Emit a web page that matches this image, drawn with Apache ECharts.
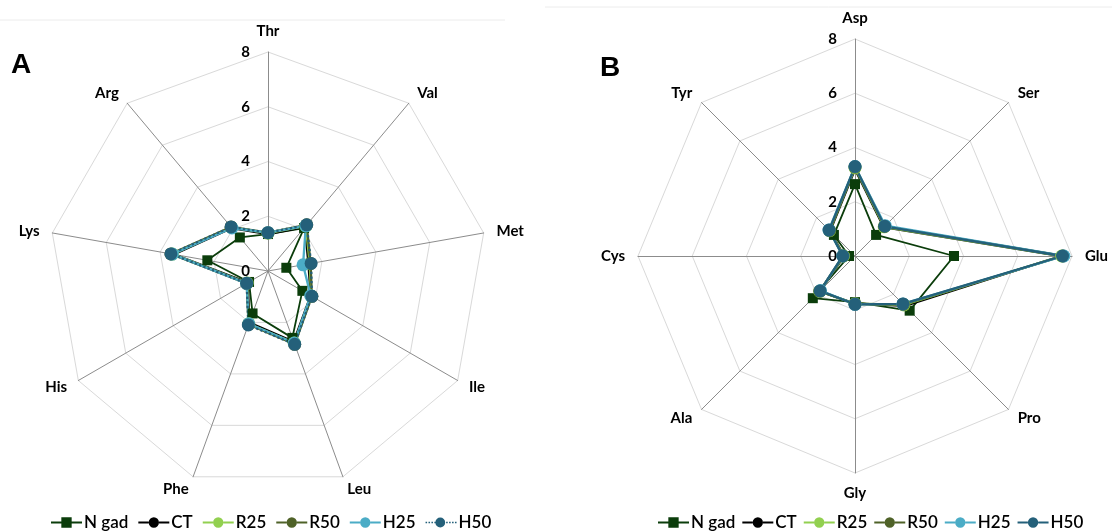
<!DOCTYPE html>
<html>
<head>
<meta charset="utf-8">
<script src="https://cdn.jsdelivr.net/npm/echarts@6/dist/echarts.min.js"></script>
<style>
html,body{margin:0;padding:0;background:#fff;}
#chart{width:1112px;height:532px;}
</style>
</head>
<body>
<div id="chart"></div>
<script>
// ---- data ----
const catsA = ['Thr','Val','Met','Ile','Leu','Phe','His','Lys','Arg'];
const catsB = ['Asp','Ser','Glu','Pro','Gly','Ala','Cys','Tyr'];
const seriesNames = ['N gad','CT','R25','R50','H25','H50'];
const tickLabels = [0,2,4,6,8];

// Panel A (Thr, Val, Met, Ile, Leu, Phe, His, Lys, Arg)
const aNgad = [1.35, 2.05, 0.68, 1.45, 2.60, 1.65, 0.80, 2.25, 1.60];
const aCT   = [1.35, 2.10, 1.50, 1.80, 2.75, 2.00, 0.85, 3.50, 2.05];
const aR25  = [1.38, 2.15, 1.55, 1.82, 2.80, 2.05, 0.88, 3.55, 2.08];
const aR50  = [1.40, 2.20, 1.58, 1.85, 2.85, 2.08, 0.90, 3.60, 2.10];
const aH25  = [1.40, 2.15, 1.30, 1.80, 2.80, 2.05, 0.90, 3.55, 2.05];
const aH50  = [1.40, 2.20, 1.60, 1.85, 2.85, 2.10, 0.90, 3.60, 2.10];

// Panel B (Asp, Ser, Glu, Pro, Gly, Ala, Cys, Tyr)
const bNgad = [2.65, 1.10, 3.65, 2.85, 1.70, 2.20, 0.22, 1.10];
const bCT   = [3.20, 1.50, 7.60, 2.60, 1.75, 1.85, 0.40, 1.30];
const bR25  = [3.25, 1.52, 7.62, 2.55, 1.76, 1.84, 0.42, 1.32];
const bR50  = [3.28, 1.55, 7.68, 2.52, 1.77, 1.83, 0.44, 1.33];
const bH25  = [3.30, 1.58, 7.70, 2.50, 1.78, 1.80, 0.45, 1.36];
const bH50  = [3.30, 1.55, 7.65, 2.50, 1.78, 1.82, 0.45, 1.35];

// ---- styles ----
const colors = {'N gad':'#0b3d0b','CT':'#000000','R25':'#92d050','R50':'#4f6228','H25':'#4bacc6','H50':'#24607a'};
const FONT = 'Lato, "Open Sans", sans-serif';

// ECharts lays radar axes counter-clockwise; Excel lays them clockwise.
function cw(arr){ return [arr[0]].concat(arr.slice(1).reverse()); }

const maxV = tickLabels[tickLabels.length-1];
function indicators(cats){
  return cw(cats).map((c,i)=>{
    const o = {name:c, min:0, max:maxV};
    if(i===0) o.axisLabel = {show:true, color:'#000', fontWeight:'bold', fontSize:15, fontFamily:FONT, margin:18};
    return o;
  });
}
function radarCfg(cats, center, radius){
  return {
    center:center, radius:radius, startAngle:90, shape:'polygon',
    splitNumber: tickLabels.length-1,
    indicator: indicators(cats),
    nameGap: 13,
    axisName: {color:'#000', fontWeight:'bold', fontSize:15, fontFamily:FONT},
    splitLine: {lineStyle:{color:'#d9d9d9', width:1}},
    splitArea: {show:false},
    axisLine: {lineStyle:{color:'#8c8c8c', width:1}},
    axisTick: {show:false},
    axisLabel: {show:false}
  };
}
function items(arrs, dottedH50){
  return seriesNames.map((n,i)=>{
    const isN = n==='N gad';
    return {
      name:n, value: cw(arrs[i]),
      symbol: isN ? 'rect' : 'circle',
      symbolSize: isN ? 10 : (n==='CT' ? 8 : 13),
      itemStyle:{color:colors[n]},
      lineStyle:{color:colors[n], width: isN ? 1.8 : 2.3, type: (dottedH50 && n==='H50') ? 'dotted' : 'solid'}
    };
  });
}

// legend icons (30 x 10 box): line + marker
function dots(x0,x1){ let s=''; for(let x=x0;x<x1-0.5;x+=3){ s+='M'+x+',4.2H'+(x+1.6)+'V5.8H'+x+'Z '; } return s; }
const circ = 'M20,5A5,5,0,1,1,10,5A5,5,0,1,1,20,5Z';
const solidL = 'M0,4H10V6H0Z M20,4H30V6H20Z ';
const iconCircle = 'path://' + solidL + circ;
const iconSquare = 'path://' + solidL + 'M10,0H20V10H10Z';
const iconDotted = 'path://' + dots(0,10) + dots(21,31) + circ;

function legendData(dotted){
  return seriesNames.map(n=>({name:n, icon: n==='N gad' ? iconSquare : (dotted && n==='H50' ? iconDotted : iconCircle)}));
}
function legendCfg(left, dotted, gap){
  return {
    left:left, top:509, orient:'horizontal', itemWidth:31, itemHeight:11, itemGap:gap,
    data: legendData(dotted), selectedMode:false,
    textStyle:{color:'#000', fontSize:17, fontWeight:600, fontFamily:FONT, padding:[0,0,0,-3]}
  };
}

const chart = echarts.init(document.getElementById('chart'), null, {renderer:'canvas'});
chart.setOption({
  backgroundColor:'#ffffff',
  animation:false,
  radar:[ radarCfg(catsA, [268,271], 219), radarCfg(catsB, [855,256], 217) ],
  legend:[ legendCfg(46, true, 10), legendCfg(653, false, 7) ],
  series:[
    {type:'radar', radarIndex:0, data: items([aNgad,aCT,aR25,aR50,aH25,aH50], true)},
    {type:'radar', radarIndex:1, data: items([bNgad,bCT,bR25,bR50,bH25,bH50], false)}
  ],
  graphic:[
    {type:'line', shape:{x1:0,y1:20,x2:505,y2:20}, style:{stroke:'#ececec', lineWidth:1}, silent:true},
    {type:'line', shape:{x1:545,y1:7,x2:1112,y2:7}, style:{stroke:'#ececec', lineWidth:1}, silent:true},
    {type:'text', left:11, top:51, style:{text:'A', font:'bold 28px "Liberation Sans", Arial, sans-serif', fill:'#000'}},
    {type:'text', left:600, top:54, style:{text:'B', font:'bold 28px "Liberation Sans", Arial, sans-serif', fill:'#000'}}
  ]
});
</script>
</body>
</html>
